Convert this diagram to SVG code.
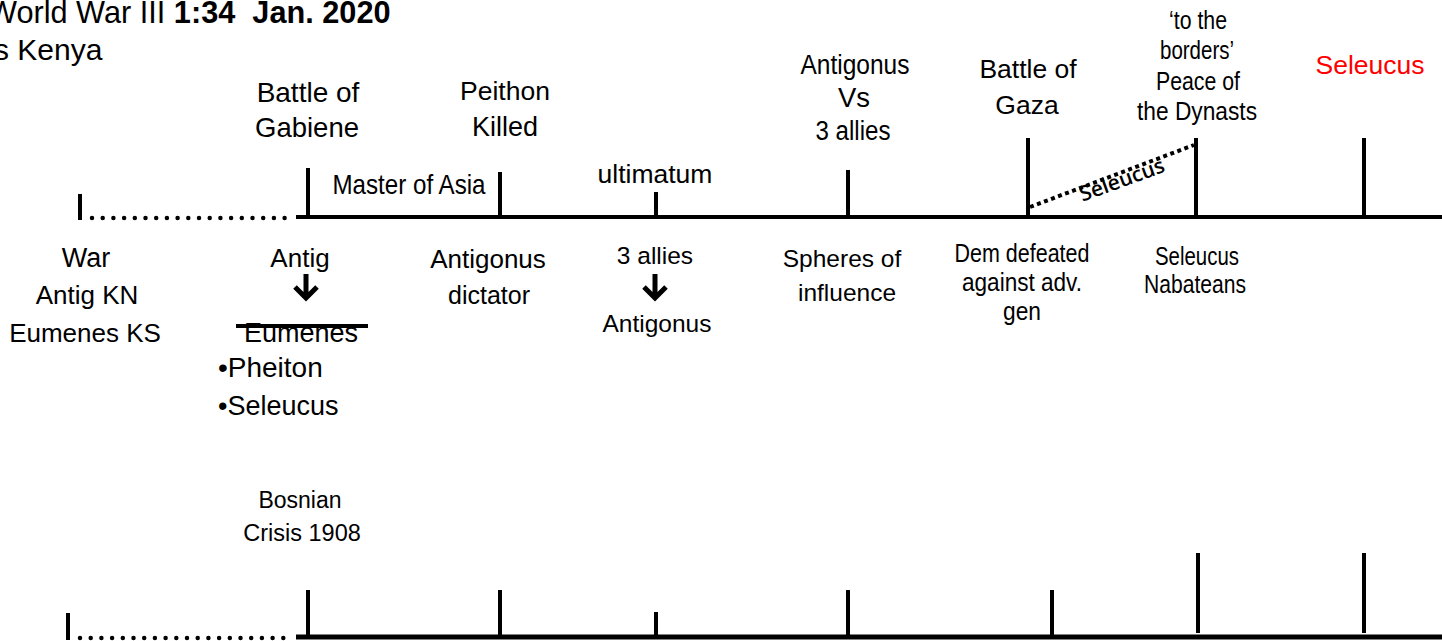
<svg xmlns="http://www.w3.org/2000/svg" width="1442" height="641" viewBox="0 0 1442 641" font-size="26">
<style>
text{font-family:"Liberation Sans",Arial,sans-serif;fill:#000;text-anchor:middle}
.l{text-anchor:start}
.ln{stroke:#000;stroke-width:4;fill:none}
.dot{stroke:#000;stroke-width:4.5;stroke-linecap:round;stroke-dasharray:0 10.7;fill:none}
.arr{stroke:#000;stroke-width:5;fill:none}
</style>
<rect width="1442" height="641" fill="#fff"/>
<g id="title">
<text class="l" x="-12" y="23" font-size="30.7">World War III <tspan font-weight="bold">1:34&#160; Jan. 2020</tspan></text>
<text class="l" x="-6" y="60" font-size="30">s Kenya</text>
</g>
<g id="connectors">
<line class="ln" x1="80" y1="194" x2="80" y2="220"/>
<line class="dot" x1="92" y1="218" x2="292" y2="218"/>
<line class="ln" x1="296" y1="217" x2="1442" y2="217"/>
<line class="ln" x1="308" y1="168" x2="308" y2="217"/>
<line class="ln" x1="500" y1="172" x2="500" y2="217"/>
<line class="ln" x1="656" y1="192" x2="656" y2="217"/>
<line class="ln" x1="848" y1="170" x2="848" y2="217"/>
<line class="ln" x1="1028" y1="138" x2="1028" y2="217"/>
<line class="ln" x1="1196" y1="138" x2="1196" y2="217"/>
<line class="ln" x1="1364" y1="138" x2="1364" y2="217"/>
<line x1="1030" y1="207" x2="1194" y2="145" stroke="#000" stroke-width="4" stroke-dasharray="4 3.5"/>
<line class="ln" x1="68" y1="613" x2="68" y2="640"/>
<line class="dot" x1="80" y1="638" x2="292" y2="638"/>
<line x1="296" y1="637" x2="1442" y2="637" stroke="#000" stroke-width="5"/>
<line class="ln" x1="308" y1="590" x2="308" y2="637"/>
<line class="ln" x1="500" y1="590" x2="500" y2="637"/>
<line class="ln" x1="656" y1="612" x2="656" y2="637"/>
<line class="ln" x1="848" y1="590" x2="848" y2="637"/>
<line class="ln" x1="1052" y1="590" x2="1052" y2="637"/>
<line class="ln" x1="1198" y1="553" x2="1198" y2="633"/>
<line class="ln" x1="1364" y1="553" x2="1364" y2="633"/>
</g>
<g id="gabiene"><text x="308" y="102" font-size="28">Battle of</text><text x="307" y="137" font-size="27.5">Gabiene</text></g>
<g id="peithon"><text x="505" y="100" font-size="26.5">Peithon</text><text x="505" y="136" font-size="27">Killed</text></g>
<g id="master"><text x="409" y="194" font-size="28" textLength="153" lengthAdjust="spacingAndGlyphs">Master of Asia</text></g>
<g id="ultimatum"><text x="655" y="183" font-size="26.5">ultimatum</text></g>
<g id="vs"><text x="855" y="74" font-size="27" textLength="109" lengthAdjust="spacingAndGlyphs">Antigonus</text><text x="854" y="107" font-size="27" textLength="32" lengthAdjust="spacingAndGlyphs">Vs</text><text x="853" y="140" font-size="27" textLength="75" lengthAdjust="spacingAndGlyphs">3 allies</text></g>
<g id="gaza"><text x="1028" y="78" font-size="26.5">Battle of</text><text x="1027" y="114" font-size="26.5">Gaza</text></g>
<g id="dynasts"><text x="1198" y="29" font-size="25" textLength="58" lengthAdjust="spacingAndGlyphs">‘to the</text><text x="1197" y="59" font-size="25" textLength="74" lengthAdjust="spacingAndGlyphs">borders’</text><text x="1198" y="90" font-size="25" textLength="84" lengthAdjust="spacingAndGlyphs">Peace of</text><text x="1197" y="120" font-size="25" textLength="120" lengthAdjust="spacingAndGlyphs">the Dynasts</text></g>
<g id="seleucus-red"><text x="1370" y="74" style="fill:#ff0000" font-size="26.5">Seleucus</text></g>
<g id="seleucus-diag"><text x="1122" y="187" transform="rotate(-20 1122 180)" style="font-family:'Open Sans',sans-serif;font-size:21px;font-weight:600">Seleucus</text></g>
<g id="war"><text x="86" y="267" font-size="27">War</text><text x="87" y="304">Antig KN</text><text x="85" y="342">Eumenes KS</text></g>
<g id="antig">
<text x="300" y="267">Antig</text>
<path class="arr" d="M306 274V297M295 287L306 298L317 287"/>
<text x="301" y="342" font-size="27">Eumenes</text>
<line class="ln" x1="236" y1="326" x2="368" y2="326"/>
<text class="l" x="218" y="377" font-size="28">•Pheiton</text>
<text class="l" x="218" y="415" font-size="27">•Seleucus</text>
</g>
<g id="dictator"><text x="488" y="268">Antigonus</text><text x="489" y="304" font-size="25">dictator</text></g>
<g id="allies">
<text x="655" y="264" font-size="24.5">3 allies</text>
<path class="arr" d="M655 274V297M644 287L655 298L666 287"/>
<text x="657" y="332" font-size="24.5">Antigonus</text>
</g>
<g id="spheres"><text x="842" y="267" font-size="24.5">Spheres of</text><text x="847" y="301" font-size="24.5">influence</text></g>
<g id="dem"><text x="1022" y="262" font-size="25" textLength="135" lengthAdjust="spacingAndGlyphs">Dem defeated</text><text x="1022" y="291" font-size="25" textLength="120" lengthAdjust="spacingAndGlyphs">against adv.</text><text x="1022" y="320" font-size="25" textLength="38" lengthAdjust="spacingAndGlyphs">gen</text></g>
<g id="nabateans"><text x="1197" y="265" font-size="25" textLength="84" lengthAdjust="spacingAndGlyphs">Seleucus</text><text x="1195" y="293" font-size="25" textLength="102" lengthAdjust="spacingAndGlyphs">Nabateans</text></g>
<g id="bosnian"><text x="300" y="508" font-size="23">Bosnian</text><text x="302" y="541" font-size="23.5">Crisis 1908</text></g>
</svg>
